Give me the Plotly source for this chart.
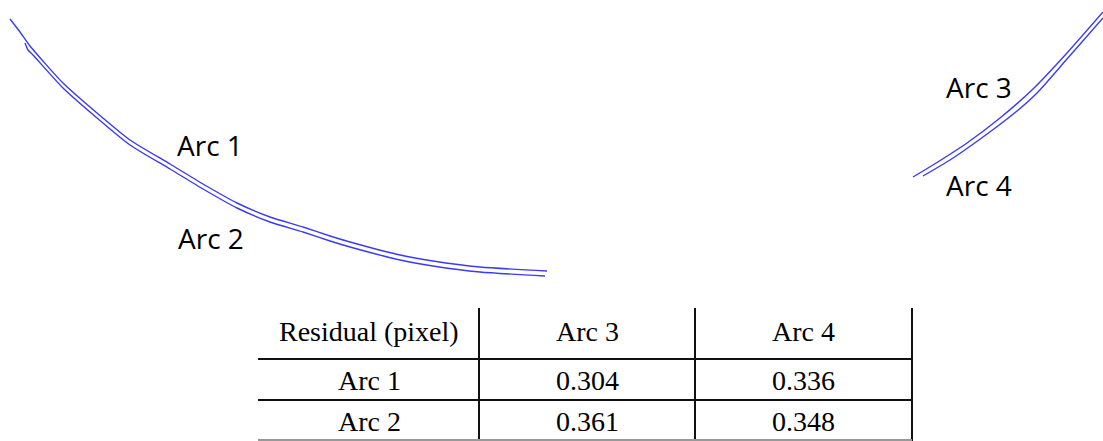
import plotly.graph_objects as go

# ---- Arc traces (image-pixel coordinates) ----
arc1_x = [10, 20, 30, 63, 97, 130, 170, 203, 237, 270, 303, 330, 350, 400, 433, 480, 547]
arc1_y = [19, 32, 46, 83, 113, 140, 164, 184, 203, 217, 227, 236, 242, 255, 261, 267, 271]

arc2_x = [25, 28, 33, 63, 97, 130, 170, 203, 237, 270, 303, 330, 350, 400, 433, 480, 545]
arc2_y = [43, 50, 55, 88, 118, 145, 169, 189, 208, 222, 232, 241, 247, 260, 266, 272, 276]

arc3_x = [913, 933, 967, 1000, 1033, 1067, 1103]
arc3_y = [177, 165, 143, 118, 89, 53, 12]

arc4_x = [923, 950, 983, 1017, 1037, 1067, 1103]
arc4_y = [176, 160, 137, 111, 93, 59, 18]

arc_labels = ["Arc 1", "Arc 2", "Arc 3", "Arc 4"]

# ---- Residual table ----
table_header = ["Residual (pixel)", "Arc 3", "Arc 4"]
table_rows = ["Arc 1", "Arc 2"]
residual_arc3 = [0.304, 0.361]
residual_arc4 = [0.336, 0.348]

W, H = 1103, 441
LINE_COLOR = "#3b3bf2"

fig = go.Figure()
for name, xs, ys in [("Arc 1", arc1_x, arc1_y), ("Arc 2", arc2_x, arc2_y),
                     ("Arc 3", arc3_x, arc3_y), ("Arc 4", arc4_x, arc4_y)]:
    fig.add_trace(go.Scatter(x=xs, y=ys, mode="lines", name=name,
                             line=dict(color=LINE_COLOR, width=1.4, shape="spline", smoothing=0.6),
                             hoverinfo="skip", showlegend=False))

# arc labels
label_pos = {"Arc 1": (210, 145), "Arc 2": (211, 238), "Arc 3": (979, 87), "Arc 4": (979, 185)}
annotations = []
for lab in arc_labels:
    lx, ly = label_pos[lab]
    annotations.append(dict(x=lx, y=ly, xref="x", yref="y", text=lab, showarrow=False,
                            font=dict(family="Open Sans", size=28, color="black"),
                            xanchor="center", yanchor="middle"))

# table geometry
col_edges = [258, 479, 695, 912]
row_edges = [308, 359, 400, 441]
col_centers = [369, 587, 803]
row_centers = [331, 380, 421]

cells = [table_header]
for i, r in enumerate(table_rows):
    cells.append([r, f"{residual_arc3[i]:.3f}", f"{residual_arc4[i]:.3f}"])

for ri, row in enumerate(cells):
    for ci, txt in enumerate(row):
        annotations.append(dict(x=col_centers[ci], y=row_centers[ri], xref="x", yref="y",
                                text=txt, showarrow=False,
                                font=dict(family="Liberation Serif", size=28, color="black"),
                                xanchor="center", yanchor="middle"))

shapes = []
for xv in col_edges[1:]:
    shapes.append(dict(type="line", x0=xv, x1=xv, y0=row_edges[0], y1=row_edges[-1],
                       xref="x", yref="y", line=dict(color="#111111", width=2)))
for yv in row_edges[1:3]:
    shapes.append(dict(type="line", x0=col_edges[0], x1=col_edges[-1], y0=yv, y1=yv,
                       xref="x", yref="y", line=dict(color="#111111", width=2)))
shapes.append(dict(type="line", x0=col_edges[0], x1=col_edges[-1], y0=440, y1=440,
                   xref="x", yref="y", line=dict(color="#999999", width=2)))

fig.update_layout(
    width=W, height=H,
    margin=dict(l=0, r=0, t=0, b=0),
    paper_bgcolor="white", plot_bgcolor="white",
    xaxis=dict(range=[0, W], visible=False, fixedrange=True),
    yaxis=dict(range=[H, 0], visible=False, fixedrange=True),
    annotations=annotations, shapes=shapes,
)

fig.write_html("out.html", config={"displayModeBar": False},
               post_script="document.body.style.margin='0';document.body.style.overflow='hidden';")
